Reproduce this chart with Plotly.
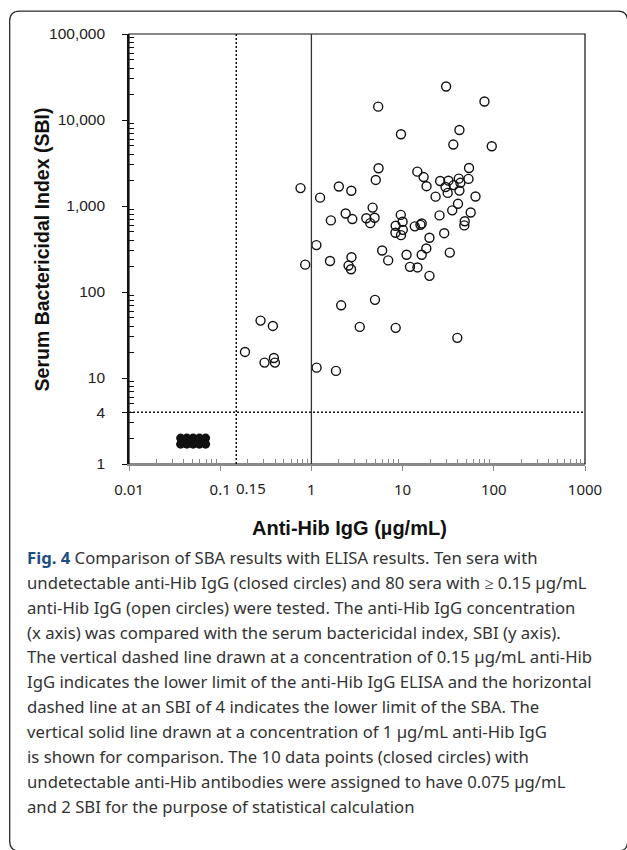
import math
import plotly.graph_objects as go

# ---------------- data ----------------
open_x = [30, 79, 5.4, 42, 9.6, 36, 95, 5.45, 53.5, 14.5,
          5.08, 17, 25.8, 31.8, 41.3, 52.8, 43, 36.3, 18.3, 29.6,
          42, 31.2, 0.76, 2.0, 2.74, 1.245, 23, 63, 40.5, 4.69,
          35, 55.8, 2.375, 9.55, 25.4, 4.0, 4.93, 2.81, 1.635, 10,
          48, 4.42, 16.2, 15.7, 8.4, 13.6, 47.5, 10.05, 8.35, 28.6,
          9.6, 19.7, 1.135, 5.97, 18.2, 32.9, 11.05, 16.2, 2.75, 6.95,
          1.6, 0.855, 2.555, 2.72, 12.05, 14.55, 19.7, 2.12, 4.98, 0.277,
          0.378, 3.39, 8.4, 39.8, 0.187, 0.388, 0.306, 0.398, 1.14, 1.86]
open_y = [24500, 16400, 14300, 7650, 6820, 5180, 4950, 2750, 2770, 2510,
          2010, 2170, 1955, 1970, 2080, 2065, 1860, 1750, 1700, 1665,
          1510, 1420, 1615, 1685, 1505, 1250, 1285, 1290, 1060, 958,
          890, 840, 817, 788, 778, 721, 730, 705, 680, 655,
          664, 632, 626, 604, 590, 580, 595, 528, 488, 483,
          458, 427, 351, 304, 321, 287, 271, 271, 254, 233,
          229, 208, 203, 184, 196, 193, 154, 70, 81, 46.5,
          40.3, 39.3, 38.3, 29.3, 20.1, 17.1, 15.1, 15.1, 13.2, 12.1]

closed_x = [0.0368, 0.0431, 0.0505, 0.0591, 0.0692,
            0.0368, 0.0431, 0.0505, 0.0591, 0.0692]
closed_y = [2.0, 2.0, 2.0, 2.0, 2.0, 1.7, 1.7, 1.7, 1.7, 1.7]

x_tickvals = [0.01, 0.1, 1, 10, 100, 1000]
x_ticktext = ["0.01", "0.1", "1", "10", "100", "1000"]
y_tickvals = [1, 4, 10, 100, 1000, 10000, 100000]
y_ticktext = ["1", "4", "10", "100", "1,000", "10,000", "100,000"]

elisa_limit = 0.15      # vertical dotted line
compare_conc = 1        # vertical solid line
sba_limit = 4           # horizontal dotted line

caption_lines = [
    "Comparison of SBA results with ELISA results. Ten sera with",
    "undetectable anti-Hib IgG (closed circles) and 80 sera with \u2265 0.15 \u00b5g/mL",
    "anti-Hib IgG (open circles) were tested. The anti-Hib IgG concentration",
    "(x axis) was compared with the serum bactericidal index, SBI (y axis).",
    "The vertical dashed line drawn at a concentration of 0.15 \u00b5g/mL anti-Hib",
    "IgG indicates the lower limit of the anti-Hib IgG ELISA and the horizontal",
    "dashed line at an SBI of 4 indicates the lower limit of the SBA. The",
    "vertical solid line drawn at a concentration of 1 \u00b5g/mL anti-Hib IgG",
    "is shown for comparison. The 10 data points (closed circles) with",
    "undetectable anti-Hib antibodies were assigned to have 0.075 \u00b5g/mL",
    "and 2 SBI for the purpose of statistical calculation",
]

# ---------------- layout geometry (pixels) ----------------
W, H = 627, 850
L, R, T, B = 129.3, 585.3, 34.0, 464.5
PW, PH = R - L, B - T


def pxx(X):
    return (X - L) / PW


def pxy(Y):
    return (B - Y) / PH


def minor_vals(lo, hi):
    out = []
    for e in range(lo, hi):
        for m in range(2, 10):
            out.append(m * 10 ** e)
    return out


fig = go.Figure()

fig.add_trace(go.Scatter(
    x=open_x, y=open_y, mode="markers",
    marker=dict(symbol="circle-open", size=9, color="#111111",
                line=dict(width=1.4, color="#111111")),
    hoverinfo="x+y", showlegend=False))

fig.add_trace(go.Scatter(
    x=closed_x, y=closed_y, mode="markers",
    marker=dict(symbol="circle", size=9, color="#111111",
                line=dict(width=0)),
    hoverinfo="x+y", showlegend=False))

# reference lines
fig.add_vline(x=elisa_limit, line=dict(color="#111111", width=1.5, dash="2px,2px"))
fig.add_hline(y=sba_limit, line=dict(color="#111111", width=1.5, dash="2px,2px"))
fig.add_vline(x=compare_conc, line=dict(color="#333333", width=1.3))

# plot border (top & right black)
fig.add_shape(type="rect", xref="paper", yref="paper", x0=0, x1=1, y0=0, y1=1,
              line=dict(color="#111111", width=1.2), layer="below")

# outer rounded frame (right and bottom edges sit just outside the page)
fx0, fx1, fy0, fy1, rad = 10, 628, 11, 852, 10
path = (f"M {pxx(fx0)},{pxy(fy0 + rad)} "
        f"Q {pxx(fx0)},{pxy(fy0)} {pxx(fx0 + rad)},{pxy(fy0)} "
        f"L {pxx(fx1 - rad)},{pxy(fy0)} "
        f"Q {pxx(fx1)},{pxy(fy0)} {pxx(fx1)},{pxy(fy0 + rad)} "
        f"L {pxx(fx1)},{pxy(fy1 - rad)} "
        f"Q {pxx(fx1)},{pxy(fy1)} {pxx(fx1 - rad)},{pxy(fy1)} "
        f"L {pxx(fx0 + rad)},{pxy(fy1)} "
        f"Q {pxx(fx0)},{pxy(fy1)} {pxx(fx0)},{pxy(fy1 - rad)} Z")
fig.add_shape(type="path", xref="paper", yref="paper", path=path,
              line=dict(color="#2a2a2a", width=1.3), layer="below")

annotations = []
# extra "0.15" tick label
annotations.append(dict(x=math.log10(elisa_limit), y=pxy(488.5), xref="x", yref="paper",
                        text="0.15", showarrow=False, xanchor="center", yanchor="middle",
                        xshift=15, font=dict(family="Noto Sans", size=15, color="#222222")))
# axis titles
annotations.append(dict(x=pxx(350), y=pxy(529), xref="paper", yref="paper",
                        text="<b>Anti-Hib IgG (\u00b5g/mL)</b>", showarrow=False,
                        xanchor="center", yanchor="middle",
                        font=dict(family="Liberation Sans, Arial", size=20, color="#111111")))
annotations.append(dict(x=pxx(42), y=pxy(250), xref="paper", yref="paper",
                        text="<b>Serum Bactericidal Index (SBI)</b>", showarrow=False,
                        textangle=-90, xanchor="center", yanchor="middle",
                        font=dict(family="Liberation Sans, Arial", size=19.5, color="#111111")))
# caption
cap_y0, cap_dy = 558, 24.9
for i, line in enumerate(caption_lines):
    txt = line
    if i == 0:
        txt = "<b><span style='color:#1d4f82'>Fig. 4</span></b> " + line
    annotations.append(dict(x=pxx(25), y=pxy(cap_y0 + i * cap_dy), xref="paper", yref="paper",
                            text=txt, showarrow=False, xanchor="left", yanchor="middle",
                            align="left",
                            font=dict(family="Noto Sans", size=16.7, color="#333333")))

fig.update_layout(
    width=W, height=H,
    margin=dict(l=L, r=W - R, t=T, b=H - B, pad=0),
    paper_bgcolor="white", plot_bgcolor="white",
    showlegend=False,
    annotations=annotations,
    xaxis=dict(type="log", range=[-2, 3], tickmode="array",
               tickvals=x_tickvals, ticktext=x_ticktext,
               showgrid=False, zeroline=False,
               showline=True, linecolor="#8a8a8a", linewidth=2,
               ticks="outside", ticklen=5, tickcolor="#8a8a8a", tickwidth=1,
               ticklabelstandoff=6,
               tickfont=dict(family="Noto Sans", size=15, color="#222222"),
               minor=dict(ticks="inside", ticklen=5, tickcolor="#8a8a8a", tickwidth=1,
                          tickmode="array", tickvals=minor_vals(-2, 3), showgrid=False)),
    yaxis=dict(type="log", range=[0, 5], tickmode="array",
               tickvals=y_tickvals, ticktext=y_ticktext,
               showgrid=False, zeroline=False,
               showline=True, linecolor="#111111", linewidth=1.6,
               ticks="outside", ticklen=5, tickcolor="#111111", tickwidth=1,
               ticklabelstandoff=14,
               tickfont=dict(family="Liberation Sans, Arial", size=15.5, color="#222222"),
               minor=dict(ticks="inside", ticklen=5, tickcolor="#111111", tickwidth=1,
                          tickmode="array", tickvals=minor_vals(0, 5), showgrid=False)),
)

fig.write_html("out.html")
